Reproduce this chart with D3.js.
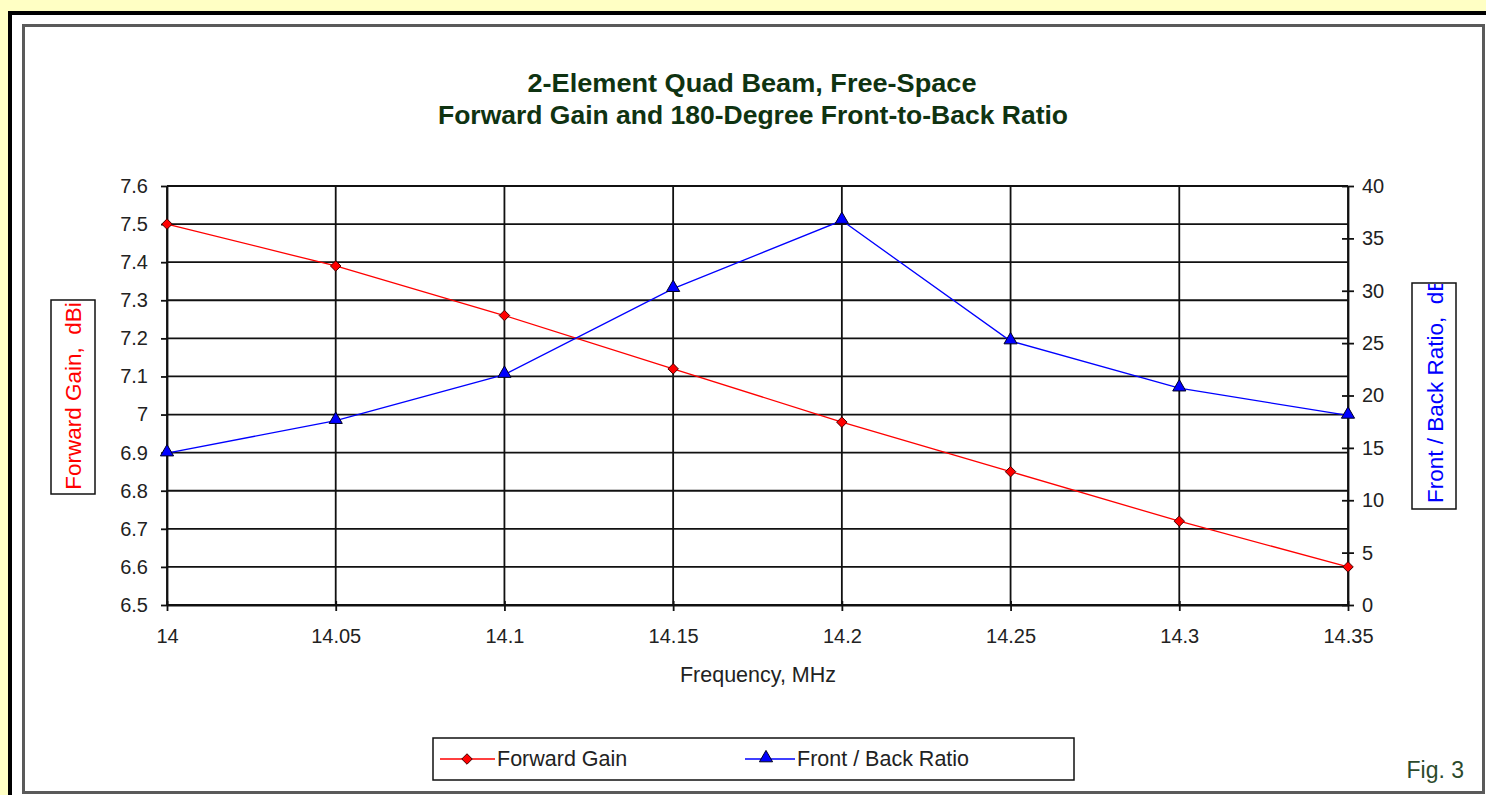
<!DOCTYPE html>
<html>
<head>
<meta charset="utf-8">
<script src="https://cdn.jsdelivr.net/npm/d3@7"></script>
<style>
  html, body { margin: 0; padding: 0; background: #ffffc4; overflow: hidden; }
  svg { display: block; }
</style>
</head>
<body>
<svg id="chart" width="1486" height="795"></svg>
<script>
// Frequency sweep of a 2-element quad beam
const frequencies = [14.00, 14.05, 14.10, 14.15, 14.20, 14.25, 14.30, 14.35];
const forwardGain = [7.50, 7.39, 7.26, 7.12, 6.98, 6.85, 6.72, 6.60];
const frontBack   = [14.5, 17.6, 22.0, 30.2, 36.7, 25.2, 20.7, 18.1];

const xTicks = [14, 14.05, 14.1, 14.15, 14.2, 14.25, 14.3, 14.35];
const xTickLabels = ["14", "14.05", "14.1", "14.15", "14.2", "14.25", "14.3", "14.35"];
const gainTicks = [6.5, 6.6, 6.7, 6.8, 6.9, 7.0, 7.1, 7.2, 7.3, 7.4, 7.5, 7.6];
const gainTickLabels = ["6.5", "6.6", "6.7", "6.8", "6.9", "7", "7.1", "7.2", "7.3", "7.4", "7.5", "7.6"];
const ratioTicks = [0, 5, 10, 15, 20, 25, 30, 35, 40];

const titleLines = ["2-Element Quad Beam, Free-Space", "Forward Gain and 180-Degree Front-to-Back Ratio"];
const seriesNames = ["Forward Gain", "Front / Back Ratio"];

const svg = d3.select("#chart");
const font = "'Liberation Sans', Arial, sans-serif";
const narrow = "'Liberation Sans Narrow', 'Liberation Sans', Arial, sans-serif";
const textColor = "#222";

// Page frame
svg.append("rect").attr("x", 10).attr("y", 13).attr("width", 1490).attr("height", 800)
  .attr("fill", "#fff").attr("stroke", "#000").attr("stroke-width", 4);
svg.append("rect").attr("x", 23.5).attr("y", 25.5).attr("width", 1460).attr("height", 767)
  .attr("fill", "#fff").attr("stroke", "#5a5a5a").attr("stroke-width", 3);

// Plot geometry
const plotL = 167, plotR = 1348, plotT = 186, plotB = 605;

const x = d3.scaleLinear().domain([14, 14.35]).range([plotL, plotR]);
const yL = d3.scaleLinear().domain([6.5, 7.6]).range([plotB, plotT]);
const yR = d3.scaleLinear().domain([0, 40]).range([plotB, plotT]);

const grid = svg.append("g");
grid.selectAll("line.h").data(gainTicks).join("line")
  .attr("x1", plotL).attr("x2", plotR)
  .attr("y1", d => yL(d)).attr("y2", d => yL(d))
  .attr("stroke", "#111").attr("stroke-width", 1.8);
grid.selectAll("line.v").data(xTicks).join("line")
  .attr("x1", d => x(d)).attr("x2", d => x(d))
  .attr("y1", plotT).attr("y2", plotB)
  .attr("stroke", "#111").attr("stroke-width", 1.8);

// Axes
const axisColor = "#111";
function styleAxis(g) {
  g.select(".domain").attr("stroke", axisColor).attr("stroke-width", 1.8);
  g.selectAll(".tick line").attr("stroke", axisColor).attr("stroke-width", 1.8);
  g.selectAll(".tick text").attr("fill", textColor).attr("font-family", font).attr("font-size", 20);
}

const xAxis = svg.append("g").attr("transform", `translate(0,${plotB})`)
  .call(d3.axisBottom(x).tickValues(xTicks).tickSize(6).tickSizeOuter(0)
    .tickFormat((d, i) => xTickLabels[i]).tickPadding(18));
styleAxis(xAxis);
xAxis.selectAll(".tick line").attr("y1", -4);

const yAxisL = svg.append("g").attr("transform", `translate(${plotL},0)`)
  .call(d3.axisLeft(yL).tickValues(gainTicks).tickSize(6).tickSizeOuter(0)
    .tickFormat((d, i) => gainTickLabels[i]).tickPadding(13));
styleAxis(yAxisL);

const yAxisR = svg.append("g").attr("transform", `translate(${plotR},0)`)
  .call(d3.axisRight(yR).tickValues(ratioTicks).tickSize(6).tickSizeOuter(0).tickPadding(8));
styleAxis(yAxisR);
yAxisR.selectAll(".tick line").attr("x1", -6);

// Series
const gainPts = frequencies.map((f, i) => [x(f), yL(forwardGain[i])]);
const ratioPts = frequencies.map((f, i) => [x(f), yR(frontBack[i])]);
const line = d3.line();

svg.append("path").attr("d", line(gainPts)).attr("fill", "none")
  .attr("stroke", "#ff0000").attr("stroke-width", 1.3);
svg.append("path").attr("d", line(ratioPts)).attr("fill", "none")
  .attr("stroke", "#0000ff").attr("stroke-width", 1.3);

const diamond = d3.symbol().type(d3.symbolDiamond2).size(70);
const triangle = d3.symbol().type(d3.symbolTriangle).size(75);

svg.selectAll("path.gain").data(gainPts).join("path")
  .attr("transform", d => `translate(${d[0]},${d[1]})`)
  .attr("d", diamond).attr("fill", "#ff0000").attr("stroke", "#400").attr("stroke-width", 1);
svg.selectAll("path.ratio").data(ratioPts).join("path")
  .attr("transform", d => `translate(${d[0]},${d[1] - 1})`)
  .attr("d", triangle).attr("fill", "#0000ff").attr("stroke", "#002").attr("stroke-width", 1);

// Title
const title = svg.append("g").attr("font-family", narrow).attr("font-weight", "bold")
  .attr("font-size", 26).attr("fill", "#0f3311").attr("text-anchor", "middle");
title.append("text").attr("x", 752).attr("y", 92)
  .attr("textLength", 449).attr("lengthAdjust", "spacingAndGlyphs").text(titleLines[0]);
title.append("text").attr("x", 753).attr("y", 124)
  .attr("textLength", 630).attr("lengthAdjust", "spacingAndGlyphs").text(titleLines[1]);

// X axis title
svg.append("text").attr("x", 758).attr("y", 682).attr("text-anchor", "middle")
  .attr("font-family", font).attr("font-size", 21.5).attr("fill", textColor).text("Frequency, MHz");

// Left axis title
svg.append("rect").attr("x", 51).attr("y", 300).attr("width", 44).attr("height", 194)
  .attr("fill", "#fff").attr("stroke", "#111").attr("stroke-width", 1.5);
svg.append("text").attr("transform", "translate(81,396) rotate(-90)").attr("text-anchor", "middle")
  .attr("font-family", font).attr("font-size", 22.5).attr("fill", "#ff0000")
  .attr("xml:space", "preserve").text("Forward Gain,  dBi");

// Right axis title, clipped by its box
svg.append("clipPath").attr("id", "rclip").append("rect")
  .attr("x", 1412).attr("y", 284).attr("width", 44).attr("height", 224);
svg.append("rect").attr("x", 1412).attr("y", 283).attr("width", 44).attr("height", 226)
  .attr("fill", "#fff").attr("stroke", "#111").attr("stroke-width", 1.5);
svg.append("g").attr("clip-path", "url(#rclip)")
  .append("text").attr("transform", "translate(1443,503) rotate(-90)").attr("text-anchor", "start")
  .attr("font-family", font).attr("font-size", 22.5).attr("fill", "#0000ff")
  .attr("xml:space", "preserve").text("Front / Back Ratio,  dB");

// Legend
const legend = svg.append("g");
legend.append("rect").attr("x", 433).attr("y", 738).attr("width", 641).attr("height", 42)
  .attr("fill", "#fff").attr("stroke", "#111").attr("stroke-width", 1.5);
legend.append("line").attr("x1", 440).attr("x2", 495).attr("y1", 759).attr("y2", 759)
  .attr("stroke", "#ff0000").attr("stroke-width", 1.3);
legend.append("path").attr("transform", "translate(467,759)").attr("d", diamond)
  .attr("fill", "#ff0000").attr("stroke", "#400");
legend.append("text").attr("x", 497).attr("y", 766).attr("font-family", font)
  .attr("font-size", 21.5).attr("fill", textColor).text(seriesNames[0]);
legend.append("line").attr("x1", 745).attr("x2", 795).attr("y1", 759).attr("y2", 759)
  .attr("stroke", "#0000ff").attr("stroke-width", 1.3);
legend.append("path").attr("transform", "translate(766,758)").attr("d", triangle)
  .attr("fill", "#0000ff").attr("stroke", "#002");
legend.append("text").attr("x", 797).attr("y", 766).attr("font-family", font)
  .attr("font-size", 21.5).attr("fill", textColor).text(seriesNames[1]);

// Figure number
svg.append("text").attr("x", 1464).attr("y", 778).attr("text-anchor", "end")
  .attr("font-family", font).attr("font-size", 23).attr("fill", "#2c4a2c").text("Fig. 3");
</script>
</body>
</html>
